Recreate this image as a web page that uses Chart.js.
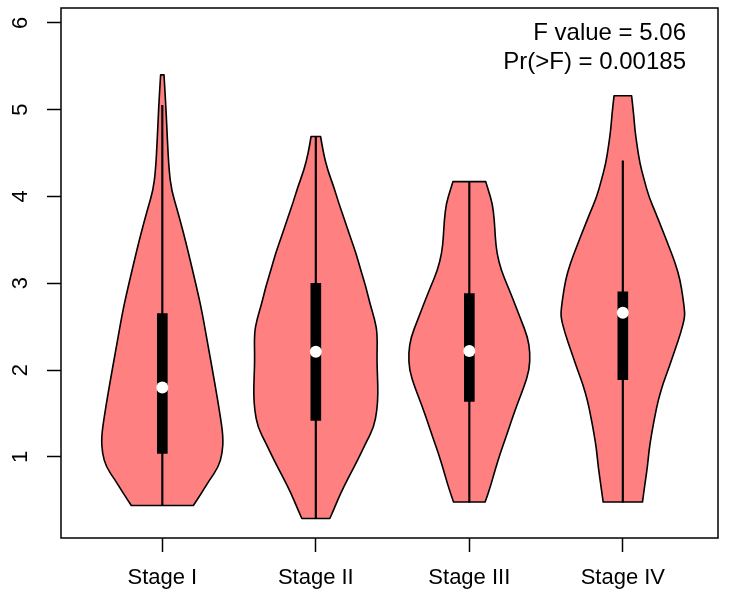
<!DOCTYPE html>
<html>
<head>
<meta charset="utf-8">
<script src="https://cdn.jsdelivr.net/npm/chart.js@4.4.1/dist/chart.umd.min.js"></script>
<style>
  html, body { margin: 0; padding: 0; background: #fff; }
  #wrap { width: 736px; height: 596px; }
</style>
</head>
<body>
<div id="wrap"><canvas id="violin_chart" width="736" height="596"></canvas></div>
<script>
const categories = ['Stage I', 'Stage II', 'Stage III', 'Stage IV'];
const yTicks = [1, 2, 3, 4, 5, 6];

// violin outlines, top to bottom: value levels and half widths (in x units)
const levels1 = [5.40, 5.05, 4.65, 4.30, 4.07, 3.84, 3.50, 2.92, 2.65, 2.26, 1.88, 1.50, 1.23, 1.04, 0.88, 0.73, 0.58, 0.44];
const widths1 = [0.011, 0.023, 0.033, 0.044, 0.060, 0.098, 0.150, 0.228, 0.261, 0.300, 0.339, 0.375, 0.397, 0.391, 0.365, 0.306, 0.254, 0.202];

const levels2 = [4.69, 4.50, 4.30, 4.11, 3.92, 3.73, 3.53, 3.35, 3.15, 2.96, 2.77, 2.58, 2.42, 2.11, 1.92, 1.73, 1.54, 1.34, 1.16, 0.96, 0.77, 0.58, 0.39, 0.29];
const widths2 = [0.031, 0.049, 0.078, 0.117, 0.150, 0.187, 0.225, 0.261, 0.293, 0.326, 0.352, 0.384, 0.401, 0.398, 0.402, 0.405, 0.399, 0.378, 0.326, 0.272, 0.215, 0.161, 0.116, 0.091];

const levels3 = [4.17, 4.07, 3.92, 3.73, 3.53, 3.35, 3.15, 2.96, 2.77, 2.58, 2.38, 2.20, 2.00, 1.80, 1.62, 1.42, 1.23, 1.04, 0.85, 0.65, 0.48];
const widths3 = [0.107, 0.124, 0.150, 0.163, 0.169, 0.179, 0.207, 0.252, 0.295, 0.336, 0.380, 0.396, 0.391, 0.355, 0.315, 0.275, 0.239, 0.201, 0.168, 0.136, 0.103];

const levels4 = [5.16, 4.96, 4.76, 4.57, 4.38, 4.19, 3.99, 3.81, 3.61, 3.42, 3.23, 3.04, 2.84, 2.71, 2.61, 2.43, 2.23, 2.03, 1.85, 1.65, 1.46, 1.27, 1.08, 0.88, 0.70, 0.48];
const widths4 = [0.057, 0.070, 0.079, 0.094, 0.111, 0.139, 0.171, 0.214, 0.259, 0.301, 0.342, 0.373, 0.391, 0.401, 0.404, 0.378, 0.339, 0.301, 0.263, 0.230, 0.208, 0.188, 0.171, 0.160, 0.145, 0.128];

// box plot stats
const whiskerLow  = [0.44, 0.29, 0.48, 0.48];
const boxLow      = [1.04, 1.42, 1.64, 1.89];
const medians     = [1.80, 2.21, 2.22, 2.66];
const boxHigh     = [2.65, 3.00, 2.88, 2.90];
const whiskerHigh = [5.05, 4.69, 4.17, 4.41];

const statLines = ['F value = 5.06', 'Pr(>F) = 0.00185'];

const violinLevels = [levels1, levels2, levels3, levels4];
const violinWidths = [widths1, widths2, widths3, widths4];

const FONT = '"Liberation Sans", Arial, Helvetica, sans-serif';

function smoothSide(ctx, pts, first) {
    if (first) ctx.moveTo(pts[0].x, pts[0].y);
    else ctx.lineTo(pts[0].x, pts[0].y);
    for (let k = 1; k < pts.length - 1; k++) {
        const mx = (pts[k].x + pts[k + 1].x) / 2;
        const my = (pts[k].y + pts[k + 1].y) / 2;
        ctx.quadraticCurveTo(pts[k].x, pts[k].y, mx, my);
    }
    ctx.lineTo(pts[pts.length - 1].x, pts[pts.length - 1].y);
}

const violinPlugin = {
    id: 'violins',
    beforeDatasetsDraw(chart) {
        const ctx = chart.ctx;
        const x = chart.scales.x, y = chart.scales.y;
        ctx.save();
        violinLevels.forEach((lv, i) => {
            const w = violinWidths[i];
            const pos = i + 1;
            const left = lv.map((v, k) => ({ x: x.getPixelForValue(pos - w[k]), y: y.getPixelForValue(v) })).reverse();
            const right = lv.map((v, k) => ({ x: x.getPixelForValue(pos + w[k]), y: y.getPixelForValue(v) }));
            ctx.beginPath();
            smoothSide(ctx, left, true);
            smoothSide(ctx, right, false);
            ctx.closePath();
            ctx.fillStyle = '#ff8080';
            ctx.fill();
            ctx.lineWidth = 1.6;
            ctx.lineJoin = 'round';
            ctx.strokeStyle = '#000';
            ctx.stroke();
        });
        ctx.restore();
    },
    afterDraw(chart) {
        const ctx = chart.ctx;
        const area = chart.chartArea;
        const y = chart.scales.y;
        ctx.save();
        // plot frame
        ctx.strokeStyle = '#000';
        ctx.lineWidth = 1.5;
        ctx.strokeRect(area.left, area.top, area.right - area.left, area.bottom - area.top);

        // y tick labels, rotated like R
        ctx.fillStyle = '#000';
        ctx.font = '22px ' + FONT;
        ctx.textAlign = 'center';
        ctx.textBaseline = 'middle';
        y.ticks.forEach(t => {
            ctx.save();
            ctx.translate(area.left - 40, y.getPixelForValue(t.value));
            ctx.rotate(-Math.PI / 2);
            ctx.fillText(String(t.value), 0, 0);
            ctx.restore();
        });

        // anova text
        ctx.font = '24px ' + FONT;
        ctx.textAlign = 'right';
        ctx.textBaseline = 'alphabetic';
        ctx.fillText(statLines[0], area.right - 32, area.top + 32);
        ctx.fillText(statLines[1], area.right - 32, area.top + 61);
        ctx.restore();
    }
};

const ctx = document.getElementById('violin_chart');

new Chart(ctx, {
    type: 'bar',
    data: {
        datasets: [
            {
                type: 'scatter',
                label: 'Median',
                data: medians.map((m, i) => ({ x: i + 1, y: m })),
                pointRadius: 6,
                pointHoverRadius: 6,
                pointBackgroundColor: '#ffffff',
                pointBorderWidth: 0,
                order: 0
            },
            {
                label: 'IQR',
                data: boxLow.map((b, i) => ({ x: i + 1, y: [b, boxHigh[i]] })),
                backgroundColor: '#000000',
                borderWidth: 0,
                barThickness: 10,
                grouped: false,
                order: 1
            },
            {
                label: 'Whisker',
                data: whiskerLow.map((b, i) => ({ x: i + 1, y: [b, whiskerHigh[i]] })),
                backgroundColor: '#000000',
                borderWidth: 0,
                barThickness: 1.5,
                grouped: false,
                order: 2
            }
        ]
    },
    options: {
        responsive: false,
        animation: false,
        devicePixelRatio: 1,
        layout: {
            padding: { top: 8, right: 18, left: 0, bottom: 0 }
        },
        scales: {
            x: {
                type: 'linear',
                min: 0.34,
                max: 4.62,
                offset: false,
                afterBuildTicks: (scale) => {
                    scale.ticks = categories.map((c, i) => ({ value: i + 1 }));
                },
                afterFit: (scale) => { scale.height = 58; },
                ticks: {
                    callback: (value) => categories[value - 1],
                    color: '#000',
                    font: { family: FONT, size: 22 },
                    padding: 13,
                    maxRotation: 0,
                    autoSkip: false
                },
                grid: {
                    offset: false,
                    drawOnChartArea: false,
                    drawTicks: true,
                    tickLength: 14,
                    tickColor: '#000',
                    tickWidth: 1.5
                },
                border: { display: false }
            },
            y: {
                type: 'linear',
                min: 0.066,
                max: 6.17,
                afterBuildTicks: (scale) => {
                    scale.ticks = yTicks.map(v => ({ value: v }));
                },
                afterFit: (scale) => { scale.width = 61; },
                ticks: { display: false },
                grid: {
                    drawOnChartArea: false,
                    drawTicks: true,
                    tickLength: 14,
                    tickColor: '#000',
                    tickWidth: 1.5
                },
                border: { display: false }
            }
        },
        plugins: {
            legend: { display: false },
            tooltip: { enabled: false }
        }
    },
    plugins: [violinPlugin]
});
</script>
</body>
</html>
